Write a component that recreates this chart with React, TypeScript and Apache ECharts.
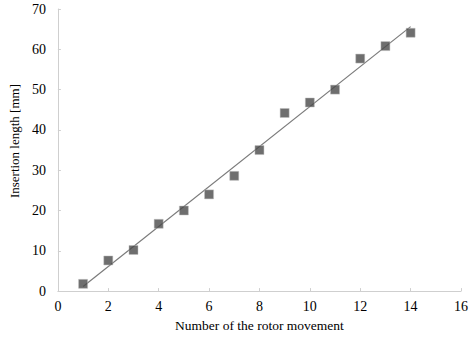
import React, { useEffect, useRef } from "react";
import * as echarts from "echarts";

const rotorMovement = [1, 2, 3, 4, 5, 6, 7, 8, 9, 10, 11, 12, 13, 14];
const insertionLength = [1.8, 7.6, 10.2, 16.7, 20.0, 24.0, 28.6, 35.0, 44.2, 46.8, 50.0, 57.7, 60.8, 64.1];
const xAxisName = "Number of the rotor movement";
const yAxisName = "Insertion length [mm]";

function fitLine(xs: number[], ys: number[]) {
  const n = xs.length;
  const mx = xs.reduce((a, b) => a + b, 0) / n;
  const my = ys.reduce((a, b) => a + b, 0) / n;
  let sxy = 0, sxx = 0;
  for (let i = 0; i < n; i++) {
    sxy += (xs[i] - mx) * (ys[i] - my);
    sxx += (xs[i] - mx) * (xs[i] - mx);
  }
  const k = sxy / sxx;
  const b = my - k * mx;
  const x0 = xs[0], x1 = xs[n - 1];
  return [[x0, k * x0 + b], [x1, k * x1 + b]];
}

export default function App() {
  const ref = useRef<HTMLDivElement>(null);
  useEffect(() => {
    if (!ref.current) return;
    const chart = echarts.init(ref.current, null, { renderer: "svg" });
    const font = "'Liberation Serif', 'DejaVu Serif', serif";
    const axisCommon = {
      axisLine: { lineStyle: { color: "#cfcfcf", width: 1 } },
      axisTick: { inside: true, length: 3, lineStyle: { color: "#cfcfcf" } },
      splitLine: { show: false },
      axisLabel: { color: "#000", fontFamily: font, fontSize: 14 },
    };
    chart.setOption({
      animation: false,
      backgroundColor: "#fff",
      grid: { left: 57, right: 13, top: 9, bottom: 42, containLabel: false },
      xAxis: {
        type: "value",
        min: 0,
        max: 16,
        interval: 2,
        name: xAxisName,
        nameLocation: "middle",
        nameGap: 25,
        nameTextStyle: { color: "#000", fontFamily: font, fontSize: 13.5 },
        ...axisCommon,
        axisLabel: { ...axisCommon.axisLabel, margin: 8 },
      },
      yAxis: {
        type: "value",
        min: 0,
        max: 70,
        interval: 10,
        name: yAxisName,
        nameLocation: "middle",
        nameGap: 34,
        nameTextStyle: { color: "#000", fontFamily: font, fontSize: 13, padding: [0, 0, 0, 18] },
        ...axisCommon,
        axisLabel: { ...axisCommon.axisLabel, margin: 12 },
      },
      series: [
        {
          type: "line",
          data: fitLine(rotorMovement, insertionLength),
          symbol: "none",
          lineStyle: { color: "#7a7a7a", width: 1.2 },
          z: 1,
        },
        {
          type: "scatter",
          data: rotorMovement.map((x, i) => [x, insertionLength[i]]),
          symbol: "rect",
          symbolSize: 9,
          itemStyle: { color: "#4a4a4a", borderColor: "#bdbdbd", borderWidth: 0.6 },
          z: 2,
        },
      ],
    });
    return () => chart.dispose();
  }, []);
  return <div ref={ref} style={{ width: 474, height: 337, position: "absolute", left: 0, top: 0 }} />;
}
